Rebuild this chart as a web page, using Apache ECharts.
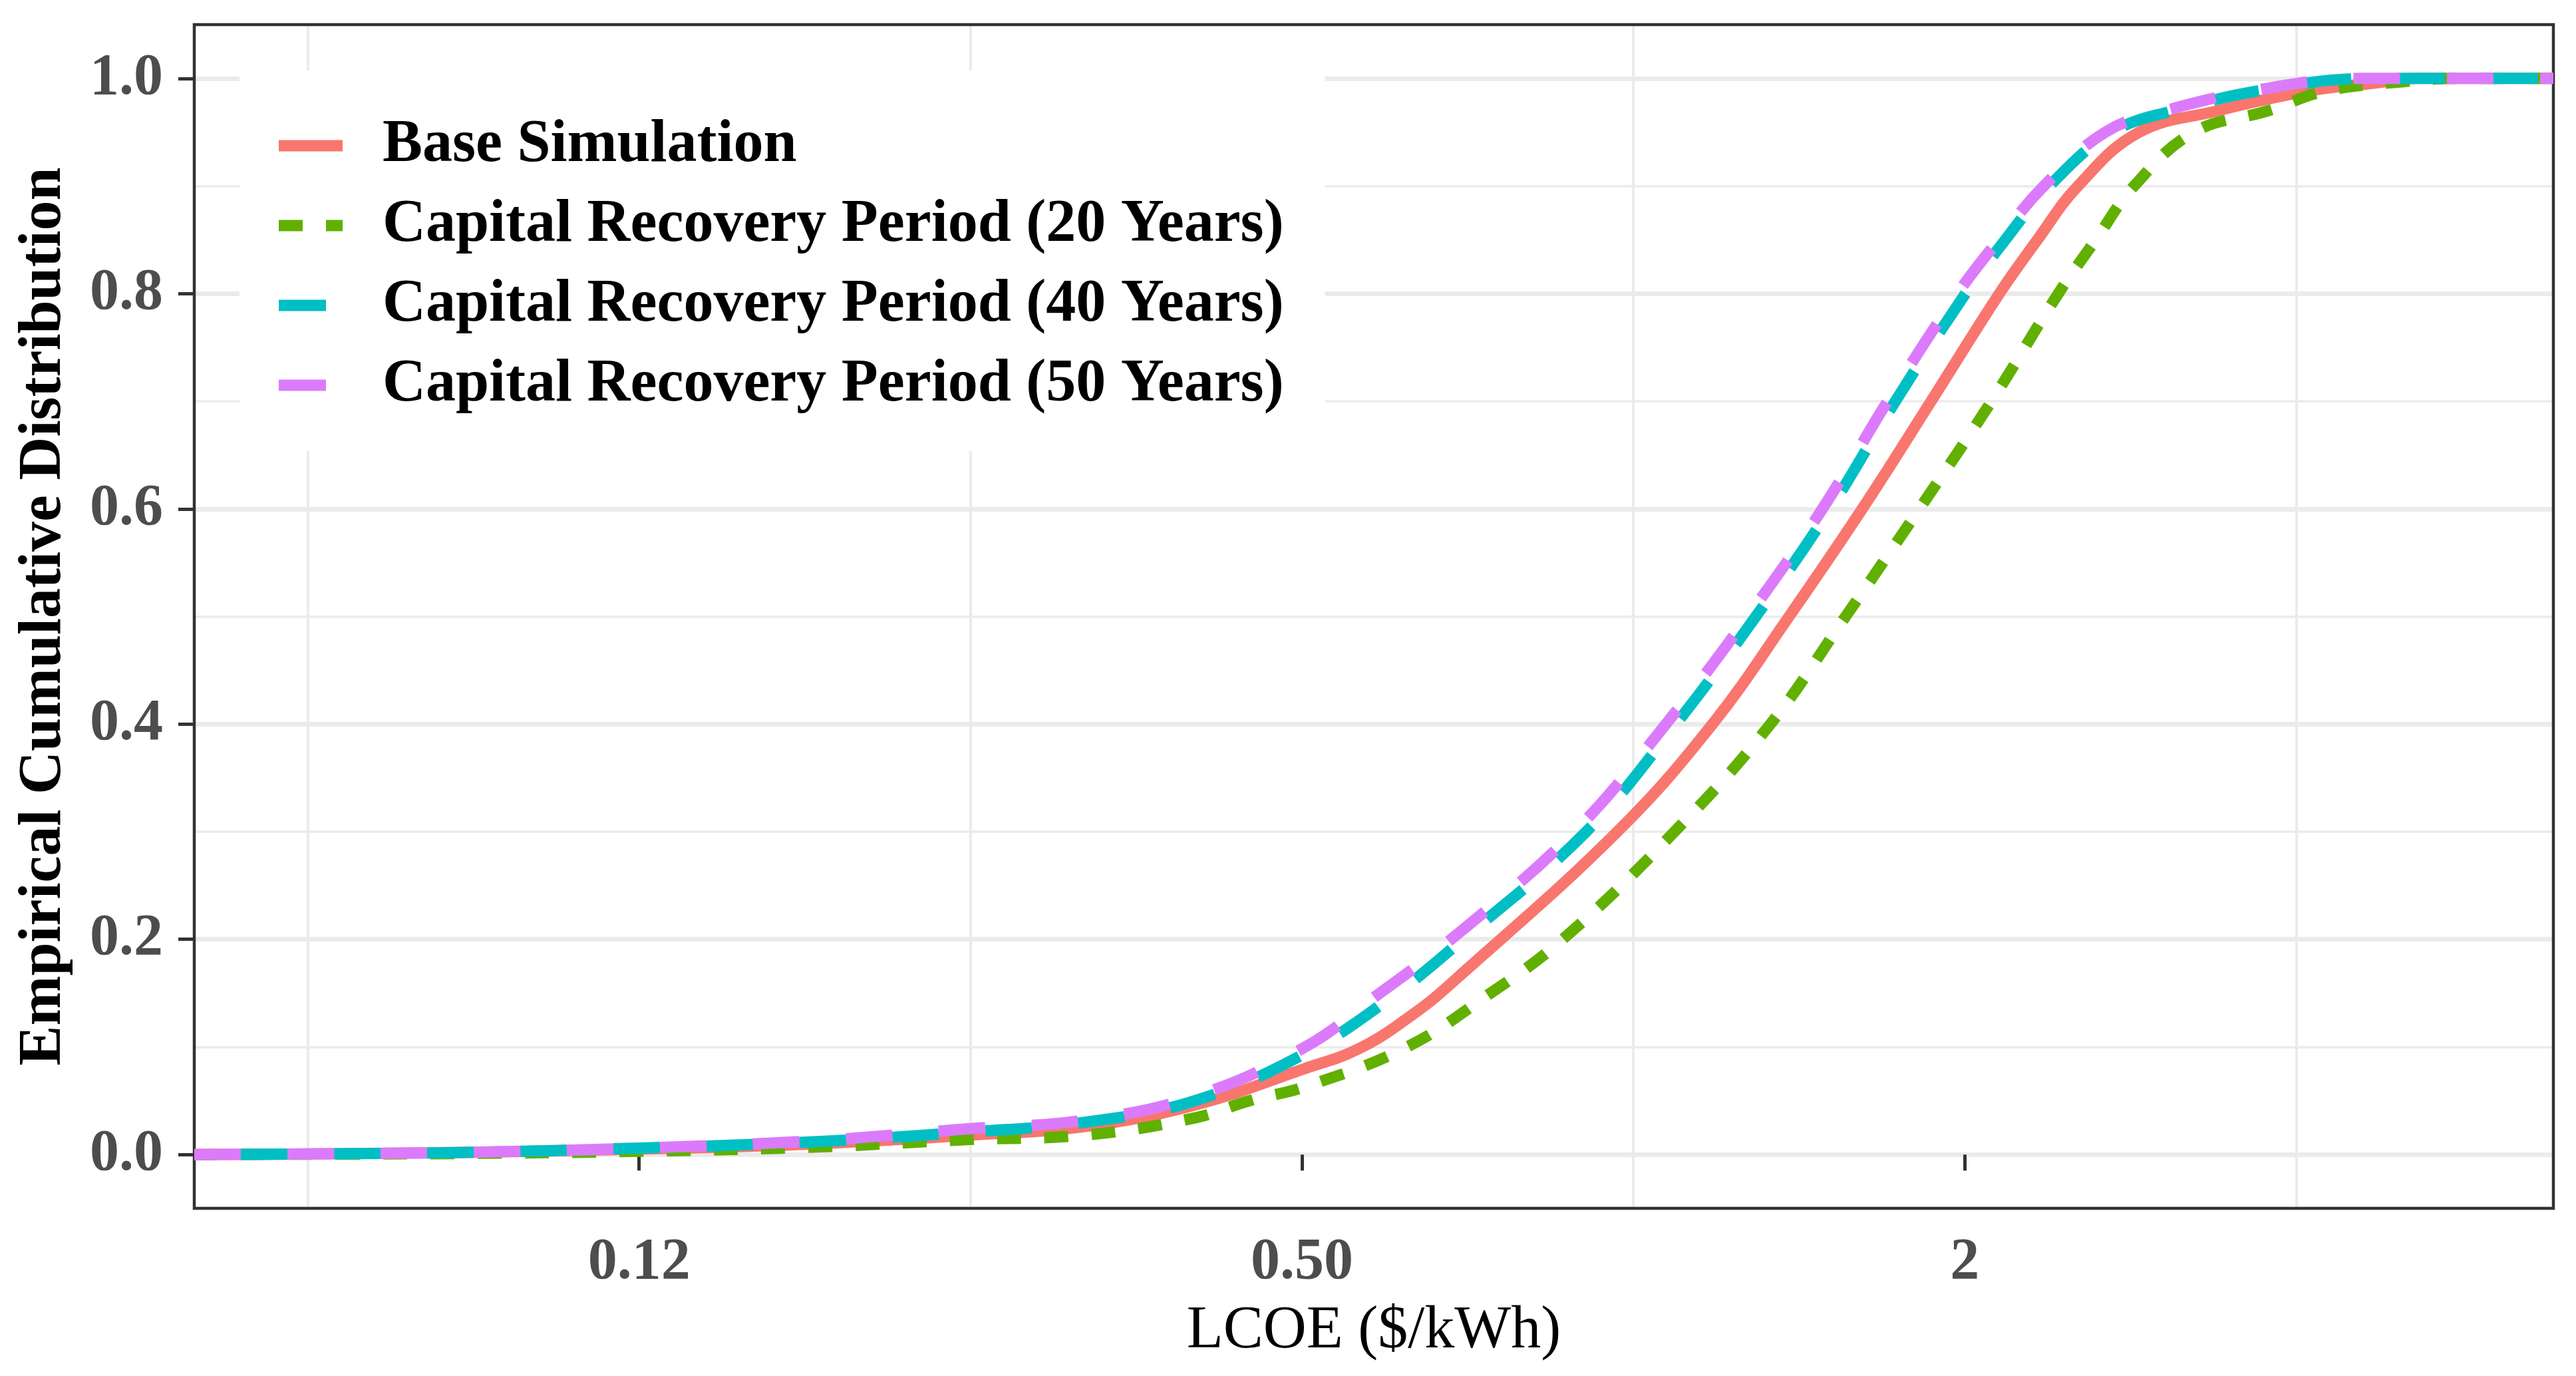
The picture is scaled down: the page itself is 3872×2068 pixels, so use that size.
<!DOCTYPE html>
<html><head><meta charset="utf-8">
<script src="https://cdn.jsdelivr.net/npm/echarts@6/dist/echarts.min.js"></script>
<style>html,body{margin:0;padding:0;background:#fff}#c{width:3872px;height:2068px}</style>
</head><body><div id="c"></div>
<script>
// ---- data ----
const seriesNames = ['Base Simulation','Capital Recovery Period (20 Years)','Capital Recovery Period (40 Years)','Capital Recovery Period (50 Years)'];
const seriesColors = ['#F8766D','#61B000','#00BFC4','#DB7BFB'];

const xMin = 0.0493, xMax = 6.85, yMin = -0.05, yMax = 1.05;

const baseLCOE = [0.0493,0.0625,0.0867,0.125,0.1815,0.2496,0.3176,0.3996,0.5035,0.565,0.634,0.690,0.967,1.180,1.385,1.614,1.864,2.150,2.328,2.534,2.880,3.394,3.774,4.199,4.649,5.198,6.85];
const baseECDF = [0,0.0005,0.002,0.005,0.010,0.018,0.026,0.046,0.080,0.099,0.132,0.163,0.30,0.40,0.50,0.60,0.70,0.80,0.85,0.90,0.95,0.97,0.981,0.99,0.995,1.0,1.0];

const crp20LCOE = [0.0493,0.0625,0.0867,0.125,0.1815,0.2496,0.3176,0.3996,0.448,0.5035,0.623,0.737,0.8626,1.09,1.332,1.559,1.819,2.115,2.432,2.63,2.85,3.229,3.774,4.24,5.01,5.618,6.85];
const crp20ECDF = [0,0.0003,0.001,0.003,0.007,0.014,0.018,0.034,0.05,0.063,0.10,0.148,0.20,0.30,0.40,0.50,0.60,0.70,0.80,0.85,0.90,0.95,0.97,0.988,0.997,1.0,1.0];

const crp40LCOE = [0.0493,0.0625,0.0867,0.125,0.1815,0.2496,0.3176,0.3996,0.5035,0.606,0.700,0.906,1.093,1.292,1.509,1.730,2.003,2.177,2.387,2.721,3.092,3.774,4.669,6.85];
const crp40ECDF = [0,0.0005,0.002,0.006,0.012,0.021,0.030,0.050,0.094,0.148,0.20,0.30,0.40,0.50,0.60,0.70,0.80,0.85,0.90,0.95,0.97,0.99,1.0,1.0];

const crp50LCOE = [0.0493,0.0625,0.0867,0.125,0.1815,0.2496,0.3176,0.3996,0.5035,0.585,0.683,0.884,1.0705,1.2705,1.485,1.702,1.970,2.147,2.360,2.683,3.040,3.721,4.585,6.85];
const crp50ECDF = [0,0.0006,0.002,0.006,0.013,0.024,0.032,0.054,0.10,0.148,0.20,0.30,0.40,0.50,0.60,0.70,0.80,0.85,0.90,0.95,0.97,0.99,1.0,1.0];

const xTickValues = [0.125, 0.5, 2];
const xTickLabels = ['0.12', '0.50', '2'];
const xMinorGrid = [0.0625, 0.25, 1, 4];
const yTickValues = [0, 0.2, 0.4, 0.6, 0.8, 1.0];

// ---- chart ----
const FONT = 'Liberation Serif';
const zip = (xs, ys) => xs.map((x, i) => [x, ys[i]]);
const allX = [baseLCOE, crp20LCOE, crp40LCOE, crp50LCOE];
const allY = [baseECDF, crp20ECDF, crp40ECDF, crp50ECDF];
const lineTypes = ['solid', [36, 35], [70, 70], [70, 70]];
const dashOffsets = [0, 0, 70, 0];
const legendIcons = [
  'path://M0,0h96v17h-96z',
  'path://M0,0h36v17h-36z M71,0h25v17h-25z',
  'path://M0,0h71v17h-71z M95.9,8h0.1v0.1h-0.1z',
  'path://M0,0h71v17h-71z M95.9,8h0.1v0.1h-0.1z'
];

const chart = echarts.init(document.getElementById('c'), null, {renderer: 'canvas'});
chart.setOption({
  animation: false,
  backgroundColor: '#ffffff',
  grid: {left: 292, right: 34, top: 37, bottom: 252, show: true, borderColor: '#333333', borderWidth: 4.5, backgroundColor: 'transparent', z: 3},
  legend: {
    data: seriesNames.map((n, i) => ({name: n, icon: legendIcons[i]})),
    orient: 'vertical', left: 360, top: 106,
    backgroundColor: '#ffffff', padding: [63, 62, 49, 59],
    itemWidth: 96, itemHeight: 17, itemGap: 20, selectedMode: false,
    itemStyle: {borderWidth: 0},
    textStyle: {fontFamily: FONT, fontSize: 90, fontWeight: 'bold', color: '#000', lineHeight: 100, padding: [0, 0, 0, 55]}
  },
  xAxis: [{
    type: 'log', logBase: 2, min: xMin, max: xMax, position: 'bottom',
    axisLine: {show: false}, splitLine: {show: false},
    axisTick: {show: true, length: 24, customValues: xTickValues, lineStyle: {color: '#333333', width: 5}},
    axisLabel: {
      customValues: xTickValues, margin: 38, color: '#4D4D4D', fontSize: 88, fontWeight: 'bold', fontFamily: FONT,
      formatter: v => { const i = xTickValues.findIndex(t => Math.abs(v - t) < t * 1e-3); return i >= 0 ? xTickLabels[i] : ''; }
    },
    name: 'LCOE ($/kWh)', nameLocation: 'middle', nameGap: 140,
    nameTextStyle: {fontFamily: FONT, fontSize: 90, color: '#000'}
  }, {
    type: 'log', logBase: 2, min: xMin, max: xMax, position: 'bottom',
    axisLine: {show: false}, axisLabel: {show: false},
    axisTick: {show: false, customValues: xMinorGrid},
    splitLine: {show: true, lineStyle: {color: '#EBEBEB', width: 4}}
  }],
  yAxis: {
    type: 'value', min: yMin, max: yMax, splitNumber: 5,
    axisLine: {show: false},
    axisTick: {show: true, length: 24, customValues: yTickValues, lineStyle: {color: '#333333', width: 5}},
    axisLabel: {customValues: yTickValues, margin: 47, color: '#4D4D4D', fontSize: 88, fontWeight: 'bold', fontFamily: FONT, formatter: v => v.toFixed(1)},
    splitLine: {show: true, lineStyle: {color: '#EBEBEB', width: 7}},
    minorTick: {show: false, splitNumber: 2},
    minorSplitLine: {show: true, lineStyle: {color: '#EBEBEB', width: 3.5}},
    name: 'Empirical Cumulative Distribution', nameLocation: 'middle', nameGap: 180, nameRotate: 90,
    nameTextStyle: {fontFamily: FONT, fontSize: 90, fontWeight: 'bold', color: '#000'}
  },
  series: seriesNames.map((name, i) => ({
    name, type: 'line', xAxisIndex: 0, yAxisIndex: 0,
    data: zip(allX[i], allY[i]),
    symbol: 'none', showSymbol: false, smooth: 0.4,
    color: seriesColors[i],
    itemStyle: {color: seriesColors[i]},
    lineStyle: {color: seriesColors[i], width: 17, type: lineTypes[i], dashOffset: dashOffsets[i], cap: 'butt', join: 'round'},
    emphasis: {disabled: true}, silent: true
  }))
});
</script></body></html>
